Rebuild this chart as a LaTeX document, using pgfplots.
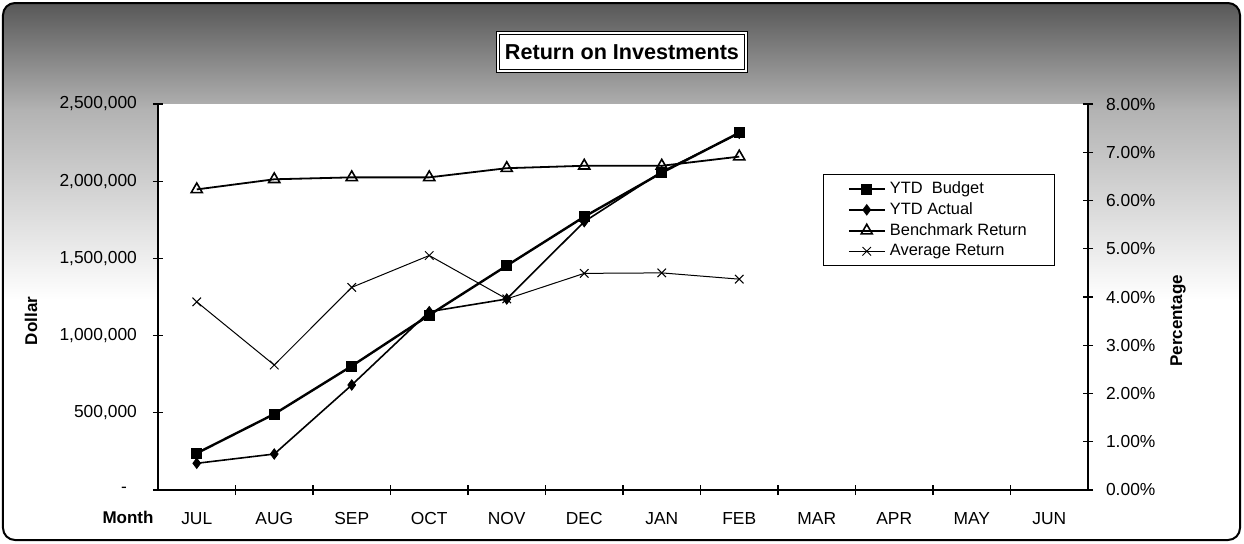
\documentclass[border=0pt]{standalone}
\usepackage{fontspec}
\setmainfont{Liberation Sans}
\usepackage{pgfplots}
\usepackage{pgfplotstable}
\pgfplotsset{compat=1.18}

\pgfplotstableread{
x budget actual bench avg
0 238000 173000 6.23 3.90
1 492000 233000 6.44 2.59
2 803000 680000 6.48 4.20
3 1133000 1155000 6.48 4.86
4 1453000 1237000 6.67 3.96
5 1770000 1738000 6.72 4.49
6 2055000 2062000 6.72 4.50
7 2314000 2310000 6.91 4.37
}\roidata

\pgfplotsset{
  budgetsty/.style={black, line width=1.2pt, mark=square*, mark size=2.5pt, mark options={solid, line width=0.4pt}},
  actualsty/.style={black, line width=0.8pt, mark=diamond*, mark size=2.6pt, mark options={solid, line width=0.4pt}},
  benchsty/.style={black, line width=0.9pt, mark=triangle, mark size=3.2pt, mark options={solid, fill=white, line width=0.8pt}},
  avgsty/.style={black, line width=0.5pt, mark=x, mark size=3pt, mark options={solid, line width=0.5pt}},
  common/.style={
    scale only axis, width=465pt, height=193pt,
    at={(0,0)}, anchor=south west,
    xmin=-0.5, xmax=11.5,
    tick align=center,
    tick label style={font=\fontsize{8.7}{10}\selectfont, black},
    label style={font=\bfseries\fontsize{8.5}{10}\selectfont},
    axis line style={line width=0.6pt},
    tick style={black, line width=0.6pt},
  }
}

\begin{document}
\begin{tikzpicture}
% page area
\fill[white] (-79pt,-26.5pt) rectangle (543pt,245pt);
\begin{scope}
  \clip[rounded corners=6pt] (-77.5pt,-25pt) rectangle (541pt,243.5pt);
  \shade[top color=black!66, bottom color=black!30] (-78pt,190pt) rectangle (542pt,244pt);
  \shade[top color=black!30, bottom color=white] (-78pt,95pt) rectangle (542pt,190.01pt);
\end{scope}
\draw[line width=1pt, rounded corners=6pt] (-77.5pt,-25pt) rectangle (541pt,243.5pt);

\begin{axis}[common,
  axis background/.style={fill=white},
  axis x line*=bottom, axis y line*=left,
  ymin=0, ymax=2500000,
  scaled y ticks=false,
  ytick={0,500000,1000000,1500000,2000000,2500000},
  yticklabels={{-\hspace*{5pt}},{500,000},{1,000,000},{1,500,000},{2,000,000},{2,500,000}},
  yticklabel style={xshift=-4.5pt},
  xtick={0,...,11},
  xticklabels={JUL,AUG,SEP,OCT,NOV,DEC,JAN,FEB,MAR,APR,MAY,JUN},
  xticklabel style={yshift=-5pt},
  minor xtick={0.5,1.5,...,10.5},
  major x tick style={draw=none},
  major tick length=5pt, minor tick length=5pt,
  ylabel={Dollar},
  ylabel style={at={(axis description cs:-0.1366,0.438)}, anchor=center},
]
\addplot[budgetsty] table[x=x, y=budget] {\roidata};
\addplot[actualsty] table[x=x, y=actual] {\roidata};
\end{axis}

\begin{axis}[common,
  axis x line=none, axis y line*=right,
  ymin=0, ymax=8,
  ytick={0,...,8},
  yticklabels={0.00\%,1.00\%,2.00\%,3.00\%,4.00\%,5.00\%,6.00\%,7.00\%,8.00\%},
  yticklabel style={xshift=3pt},
  major tick length=5pt,
  ylabel={Percentage},
  ylabel style={at={(axis description cs:1.0968,0.438)}, anchor=center},
  legend cell align=left,
  legend style={at={(axis description cs:0.715,0.819)}, anchor=north west,
    draw=black, line width=0.6pt, fill=white, font=\fontsize{8.2}{9.5}\selectfont,
    inner xsep=12pt, inner ysep=1.5pt, row sep=-1pt},
  legend image code/.code={\draw[mark repeat=2, mark phase=2, #1] plot coordinates {(0pt,0pt) (9pt,0pt) (18pt,0pt)};},
]
\addlegendimage{budgetsty}
\addlegendentry{YTD\ \ Budget}
\addlegendimage{actualsty}
\addlegendentry{YTD Actual}
\addplot[benchsty] table[x=x, y=bench] {\roidata};
\addlegendentry{Benchmark Return}
\addplot[avgsty] table[x=x, y=avg] {\roidata};
\addlegendentry{Average Return}
\end{axis}

\node[fill=white, draw=black, line width=0.7pt, double=white, double distance=0.8pt,
  minimum width=124pt, minimum height=19pt, inner sep=1pt,
  font=\bfseries\fontsize{10.8}{12}\selectfont] at (232pt,219pt) {Return on Investments};
\node[font=\bfseries\fontsize{8.5}{10}\selectfont] at (-15pt,-13.5pt) {Month};
\end{tikzpicture}
\end{document}
